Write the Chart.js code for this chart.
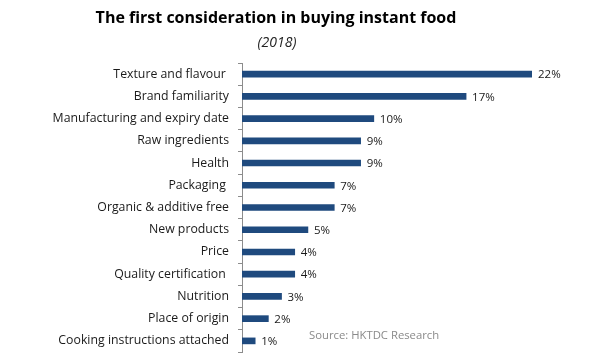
<!DOCTYPE html>
<html><head><meta charset="utf-8">
<script src="https://cdn.jsdelivr.net/npm/chart.js@4/dist/chart.umd.min.js"></script>
<style>html,body{margin:0;padding:0;background:#fff}#wrap{width:594px;height:358px;position:relative}</style>
</head><body><div id="wrap"><canvas id="c" width="594" height="358"></canvas></div>
<script>
const categories = ["Texture and flavour ","Brand familiarity","Manufacturing and expiry date","Raw ingredients","Health","Packaging ","Organic & additive free","New products","Price","Quality certification ","Nutrition","Place of origin","Cooking instructions attached"];
const values = [22,17,10,9,9,7,7,5,4,4,3,2,1];
const titleText = "The first consideration in buying instant food";
const subtitleText = "(2018)";
const sourceText = "Source: HKTDC Research";
const FONT = "'Open Sans', sans-serif";

const extras = {
  id: 'extras',
  afterDraw(chart) {
    const ctx = chart.ctx;
    const meta = chart.getDatasetMeta(0);
    ctx.save();
    ctx.fillStyle = '#1a1a1a';
    ctx.font = "11.5px " + FONT;
    ctx.textAlign = 'left';
    ctx.textBaseline = 'middle';
    meta.data.forEach((bar, i) => {
      ctx.fillText(values[i] + '%', bar.x + 6, bar.y + 1);
    });
    ctx.textAlign = 'center';
    ctx.textBaseline = 'alphabetic';
    ctx.fillStyle = '#000';
    ctx.font = "bold 16px " + FONT;
    ctx.fillText(titleText, 276, 23);
    ctx.font = "italic 14px " + FONT;
    ctx.fillStyle = '#222';
    ctx.fillText(subtitleText, 277, 47);
    ctx.textAlign = 'left';
    ctx.font = "11.3px " + FONT;
    ctx.fillStyle = '#8a8a8a';
    ctx.fillText(sourceText, 309, 339);
    ctx.restore();
  }
};

new Chart(document.getElementById('c'), {
  type: 'bar',
  data: { labels: categories, datasets: [{ data: values, backgroundColor: '#1f4a7e', barThickness: 6 }] },
  options: {
    indexAxis: 'y', responsive: false, animation: false,
    layout: { padding: { top: 63, bottom: 6, right: 62, left: 0 } },
    plugins: { legend: { display: false }, tooltip: { enabled: false }, title: { display: false } },
    scales: {
      x: { display: false, min: 0, max: 22 },
      y: {
        afterFit(s) { s.width = 242; s.paddingTop = 0; s.paddingBottom = 0; },
        border: { color: '#8c8c8c', width: 1 },
        grid: { offset: true, drawOnChartArea: false, tickLength: 4, color: '#8c8c8c' },
        ticks: { padding: 9, color: '#1a1a1a', font: { family: FONT, size: 12.3 } }
      }
    }
  },
  plugins: [extras]
});
</script></body></html>
